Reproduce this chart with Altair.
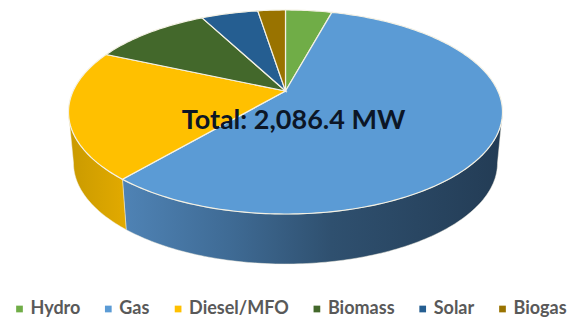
import math
import altair as alt
import pandas as pd

# Installed capacity by source, MW, in clockwise order from twelve o'clock
sources = ["Hydro", "Gas", "Diesel/MFO", "Biomass", "Solar", "Biogas"]
capacity = [88.0, 1189.0, 426.0, 223.0, 108.0, 52.4]
top_colors = ["#70ad47", "#5b9bd5", "#ffc000", "#43682b", "#255e91", "#997300"]
total_label = "Total: 2,086.4 MW"

# Perspective of the tilted disc
TOP = dict(cx=285.5, cy=112.0, rx=217.0, ry=102.0)
BASE = dict(cx=285.5, cy=163.0, rx=212.0, ry=101.0)
TILT = -0.206


def rim(theta, e):
    """Project a disc angle (clockwise from the top) onto an ellipse."""
    u, v = math.sin(theta), -math.cos(theta)
    d = 1 + TILT * v
    return (e["cx"] + e["rx"] * u * math.sqrt(1 - TILT ** 2) / d,
            e["cy"] + e["ry"] * (v + TILT) / d)


def sweep(a, b, step=math.radians(1.0)):
    n = max(2, int(abs(b - a) / step) + 1)
    return [a + (b - a) * i / (n - 1) for i in range(n)]


total = sum(capacity)
edges = [0.0]
for value in capacity:
    edges.append(edges[-1] + 2 * math.pi * value / total)

apex = (TOP["cx"], TOP["cy"] + TILT * TOP["ry"])
top_rows = []
for name, a, b in zip(sources, edges, edges[1:]):
    pts = [apex] + [rim(t, TOP) for t in sweep(a, b)]
    top_rows += [dict(source=name, x=x, y=y, i=i) for i, (x, y) in enumerate(pts)]

right_turn = math.acos(TILT)  # where the wall meets the right silhouette
left_turn = 2 * math.pi - right_turn


def wall_rows(a, b):
    thetas = sweep(a, b)
    pts = [rim(t, TOP) for t in thetas] + [rim(t, BASE) for t in reversed(thetas)]
    return pd.DataFrame([dict(x=x, y=y, i=i) for i, (x, y) in enumerate(pts)])


x_scale = alt.Scale(domain=[0, 568], range=[0, 568], nice=False, zero=False)
y_scale = alt.Scale(domain=[0, 320], range=[0, 320], nice=False, zero=False)
x_enc = alt.X("x:Q", scale=x_scale, axis=None)
y_enc = alt.Y("y:Q", scale=y_scale, axis=None)


def wall(a, b, stops, stroke_width):
    gradient = alt.LinearGradient(
        gradient="linear", x1=0, y1=0, x2=1, y2=0,
        stops=[alt.GradientStop(offset=o, color=c) for o, c in stops],
    )
    return alt.Chart(wall_rows(a, b)).mark_line(
        interpolate="linear-closed", fill=gradient,
        stroke="#f3efe0", strokeWidth=stroke_width, strokeOpacity=0.8,
    ).encode(x=x_enc, y=y_enc, order="i:Q")


gas_wall = wall(right_turn, edges[2],
                [(0, "#4f83b5"), (0.28, "#3f6b95"), (0.55, "#2f506f"), (1, "#233c55")], 0.6)
diesel_wall = wall(edges[2], left_turn,
                   [(0, "#c99a00"), (1, "#e2aa00")], 0.6)

tops = alt.Chart(pd.DataFrame(top_rows)).mark_line(
    interpolate="linear-closed", stroke="#f4f1e4", strokeWidth=1.2,
).encode(
    x=x_enc,
    y=y_enc,
    fill=alt.Fill(
        "source:N",
        scale=alt.Scale(domain=sources, range=top_colors),
        sort=sources,
        legend=alt.Legend(
            title=None, orient="none", legendX=10.5, legendY=300,
            direction="horizontal", columns=6, symbolType="square",
            symbolSize=45, symbolStrokeWidth=0, labelFont="Lato",
            labelFontSize=18, labelFontWeight="bold", labelColor="#595959",
            columnPadding=18.8, symbolOffset=0, labelOffset=2, labelLimit=200,
        ),
    ),
    detail="source:N",
    order="i:Q",
)

total_text = alt.Chart(pd.DataFrame({"label": [total_label], "x": [293.5], "y": [120.5]})).mark_text(
    font="Lato", fontWeight="bold", fontSize=27, color="#0c1626",
).encode(x=x_enc, y=y_enc, text="label:N")

chart = alt.layer(gas_wall, diesel_wall, tops, total_text).properties(
    width=568, height=320, padding=0,
    autosize=alt.AutoSizeParams(type="none"),
    background="white",
).configure_view(stroke=None)

chart.save("out.html", embed_options={"renderer": "svg", "actions": False})
